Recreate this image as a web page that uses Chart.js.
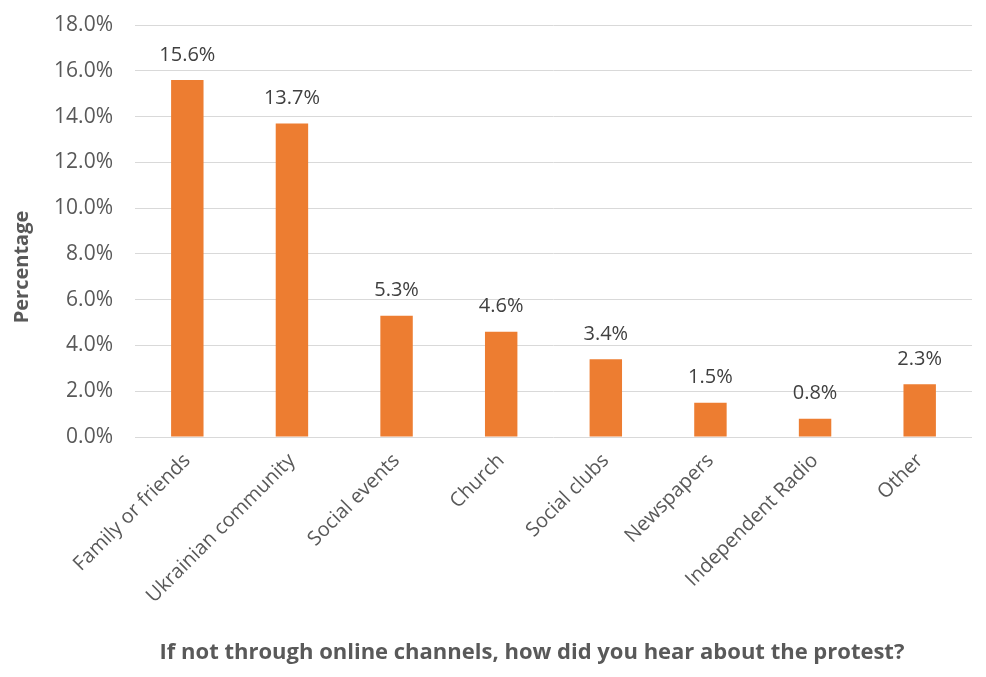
<!DOCTYPE html>
<html>
<head>
<meta charset="utf-8">
<script src="https://cdn.jsdelivr.net/npm/chart.js@4.4.1/dist/chart.umd.min.js"></script>
<style>
  html, body { margin: 0; padding: 0; background: #ffffff; }
  #wrap { width: 986px; height: 677px; position: relative; }
</style>
</head>
<body>
<div id="wrap"><canvas id="chart" width="986" height="677"></canvas></div>
<script>
// Survey answers: offline channels through which people heard about the protest
const categories = [
  'Family or friends',
  'Ukrainian community',
  'Social events',
  'Church',
  'Social clubs',
  'Newspapers',
  'Independent Radio',
  'Other'
];
const shares = [15.6, 13.7, 5.3, 4.6, 3.4, 1.5, 0.8, 2.3];
const yTicks = [0, 2, 4, 6, 8, 10, 12, 14, 16, 18];
const yTitle = 'Percentage';
const xTitle = 'If not through online channels, how did you hear about the protest?';

const FONT = "'Open Sans', 'DejaVu Sans', sans-serif";
const TEXT = '#595959';
const BAR = '#ED7D31';

// Writes the percentage above each bar
const valueLabels = {
  id: 'valueLabels',
  afterDatasetsDraw(chart) {
    const ctx = chart.ctx;
    const meta = chart.getDatasetMeta(0);
    ctx.save();
    ctx.font = '20px ' + FONT;
    ctx.fillStyle = '#404040';
    ctx.textAlign = 'center';
    ctx.textBaseline = 'middle';
    meta.data.forEach((bar, i) => {
      ctx.fillText(shares[i].toFixed(1) + '%', bar.x, bar.y - 25);
    });
    ctx.restore();
  }
};

// Axis titles, placed by hand
const axisTitles = {
  id: 'axisTitles',
  afterDraw(chart) {
    const ctx = chart.ctx;
    ctx.save();
    ctx.fillStyle = TEXT;
    ctx.font = 'bold 22px ' + FONT;
    ctx.textAlign = 'center';
    ctx.textBaseline = 'alphabetic';
    ctx.fillText(xTitle, 532, 659);

    ctx.translate(28, 267);
    ctx.rotate(-Math.PI / 2);
    ctx.font = 'bold 20px ' + FONT;
    ctx.fillText(yTitle, 0, 0);
    ctx.restore();
  }
};

new Chart(document.getElementById('chart'), {
  type: 'bar',
  data: {
    labels: categories,
    datasets: [{
      data: shares,
      backgroundColor: BAR,
      borderWidth: 0,
      categoryPercentage: 1,
      barPercentage: 0.31
    }]
  },
  options: {
    responsive: false,
    animation: false,
    layout: { padding: { top: 25, right: 14, bottom: 10, left: 0 } },
    plugins: {
      legend: { display: false },
      tooltip: { enabled: false }
    },
    scales: {
      y: {
        min: 0,
        max: 18,
        afterBuildTicks(scale) {
          scale.ticks = yTicks.map(v => ({ value: v }));
        },
        afterFit(scale) {
          scale.width = 135;
          scale.paddingTop = 0;
          scale.paddingBottom = 0;
        },
        border: { display: false },
        grid: { color: '#d9d9d9', lineWidth: 1, drawTicks: false },
        ticks: {
          padding: 22,
          color: TEXT,
          font: { family: FONT, size: 21 },
          callback: v => v.toFixed(1) + '%'
        },
        title: { display: false }
      },
      x: {
        afterFit(scale) {
          scale.height = 230;
          scale.paddingLeft = 0;
          scale.paddingRight = 0;
        },
        border: { display: false },
        grid: { display: false, drawTicks: false },
        ticks: {
          padding: 12,
          color: TEXT,
          maxRotation: 45,
          minRotation: 45,
          autoSkip: false,
          font: { family: FONT, size: 20 }
        },
        title: { display: false }
      }
    }
  },
  plugins: [valueLabels, axisTitles]
});
</script>
</body>
</html>
